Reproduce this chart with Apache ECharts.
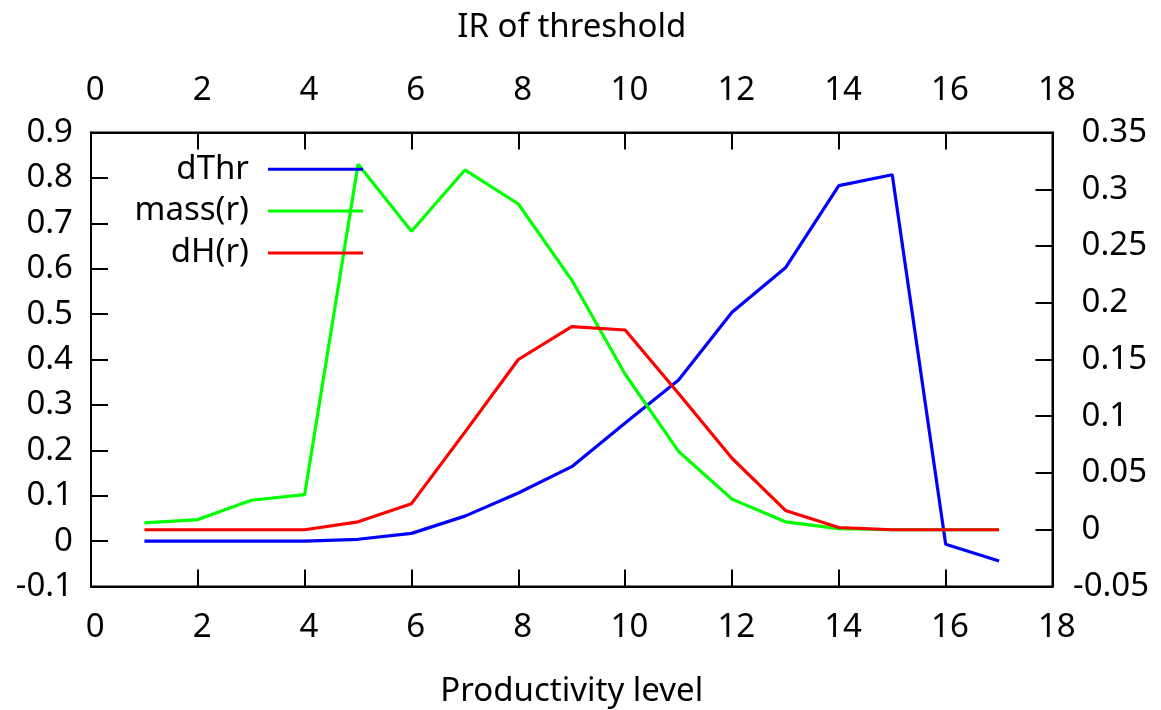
<!DOCTYPE html>
<html>
<head>
<meta charset="utf-8">
<script src="https://cdn.jsdelivr.net/npm/echarts@6/dist/echarts.min.js"></script>
<style>
html,body{margin:0;padding:0;background:#fff;}
#c{width:1161px;height:710px;}
</style>
</head>
<body>
<div id="c"></div>
<script>
// Productivity levels (x)
var levels = [1, 2, 3, 4, 5, 6, 7, 8, 9, 10, 11, 12, 13, 14, 15, 16, 17];
// dThr (left axis)
var dThr = [0, 0, 0, 0, 0.004, 0.017, 0.055, 0.106, 0.164, 0.26, 0.355, 0.504, 0.602, 0.783, 0.807, -0.007, -0.044];
// mass(r) (right axis)
var mass = [0.006, 0.009, 0.026, 0.031, 0.322, 0.263, 0.317, 0.287, 0.220, 0.137, 0.069, 0.027, 0.007, 0.001, 0, 0, 0];
// dH(r) (right axis)
var dH = [0, 0, 0, 0, 0.007, 0.023, 0.086, 0.150, 0.179, 0.176, 0.12, 0.063, 0.017, 0.002, 0, 0, 0];
var seriesNames = ['dThr', 'mass(r)', 'dH(r)'];
var xTitle = 'Productivity level';
var x2Title = 'IR of threshold';

function pairs(ys) { return levels.map(function (x, i) { return [x, ys[i]]; }); }

var FONT = 'Noto Sans';
var FS = 33;
var spaced = function (v) { return (v < 0 ? '' : ' ') + v; };

var chart = echarts.init(document.getElementById('c'), null, {renderer: 'canvas'});
var lineCommon = {color: '#000', width: 2};
var tickStyle = {color: '#000', width: 2};
var legendCommon = {
  orient: 'vertical', align: 'right', padding: 0, right: 798,
  itemWidth: 95, itemHeight: 3, icon: 'rect',
  textStyle: {fontFamily: FONT, fontSize: FS, color: '#000', padding: [0, 14, 0, 0]}
};
chart.setOption({
  animation: false,
  backgroundColor: '#fff',
  grid: {left: 91, right: 108.5, top: 132.5, bottom: 123.5, show: true, borderColor: '#000', borderWidth: 2, outerBoundsMode: 'none', containLabel: false},
  legend: [
    Object.assign({}, legendCommon, {top: 152.8, data: [seriesNames[0]]}),
    Object.assign({}, legendCommon, {top: 194.5, data: [seriesNames[1]]}),
    Object.assign({}, legendCommon, {top: 236.5, data: [seriesNames[2]]})
  ],
  xAxis: [
    {type: 'value', position: 'bottom', min: 0, max: 18, interval: 2,
     name: xTitle, nameLocation: 'middle', nameGap: 88.5,
     nameTextStyle: {fontFamily: FONT, fontSize: FS, color: '#000'},
     axisLine: {show: true, onZero: false, lineStyle: lineCommon},
     axisTick: {show: true, inside: true, length: 17, lineStyle: tickStyle},
     axisLabel: {fontFamily: FONT, fontSize: FS, color: '#000', margin: 25, formatter: spaced},
     splitLine: {show: false}},
    {type: 'value', position: 'top', min: 0, max: 18, interval: 2,
     name: x2Title, nameLocation: 'middle', nameGap: 88,
     nameTextStyle: {fontFamily: FONT, fontSize: FS, color: '#000'},
     axisLine: {show: true, onZero: false, lineStyle: lineCommon},
     axisTick: {show: true, inside: true, length: 17, lineStyle: tickStyle},
     axisLabel: {fontFamily: FONT, fontSize: FS, color: '#000', margin: 25, formatter: spaced},
     splitLine: {show: false}}
  ],
  yAxis: [
    {type: 'value', position: 'left', min: -0.1, max: 0.9, interval: 0.1,
     axisLine: {show: true, onZero: false, lineStyle: lineCommon},
     axisTick: {show: true, inside: true, length: 17, lineStyle: tickStyle},
     axisLabel: {fontFamily: FONT, fontSize: FS, color: '#000', margin: 18},
     splitLine: {show: false}},
    {type: 'value', position: 'right', min: -0.05, max: 0.35, interval: 0.05,
     axisLine: {show: true, onZero: false, lineStyle: lineCommon},
     axisTick: {show: true, inside: true, length: 17, lineStyle: tickStyle},
     axisLabel: {fontFamily: FONT, fontSize: FS, color: '#000', margin: 20.5, align: 'left', formatter: spaced},
     splitLine: {show: false}}
  ],
  series: [
    {name: seriesNames[0], type: 'line', xAxisIndex: 0, yAxisIndex: 0, data: pairs(dThr),
     showSymbol: false, symbol: 'none', color: '#0000ff', lineStyle: {color: '#0000ff', width: 3.2}},
    {name: seriesNames[1], type: 'line', xAxisIndex: 0, yAxisIndex: 1, data: pairs(mass),
     showSymbol: false, symbol: 'none', color: '#00ff00', lineStyle: {color: '#00ff00', width: 3.2}},
    {name: seriesNames[2], type: 'line', xAxisIndex: 0, yAxisIndex: 1, data: pairs(dH),
     showSymbol: false, symbol: 'none', color: '#ff0000', lineStyle: {color: '#ff0000', width: 3.2}}
  ]
});
</script>
</body>
</html>
